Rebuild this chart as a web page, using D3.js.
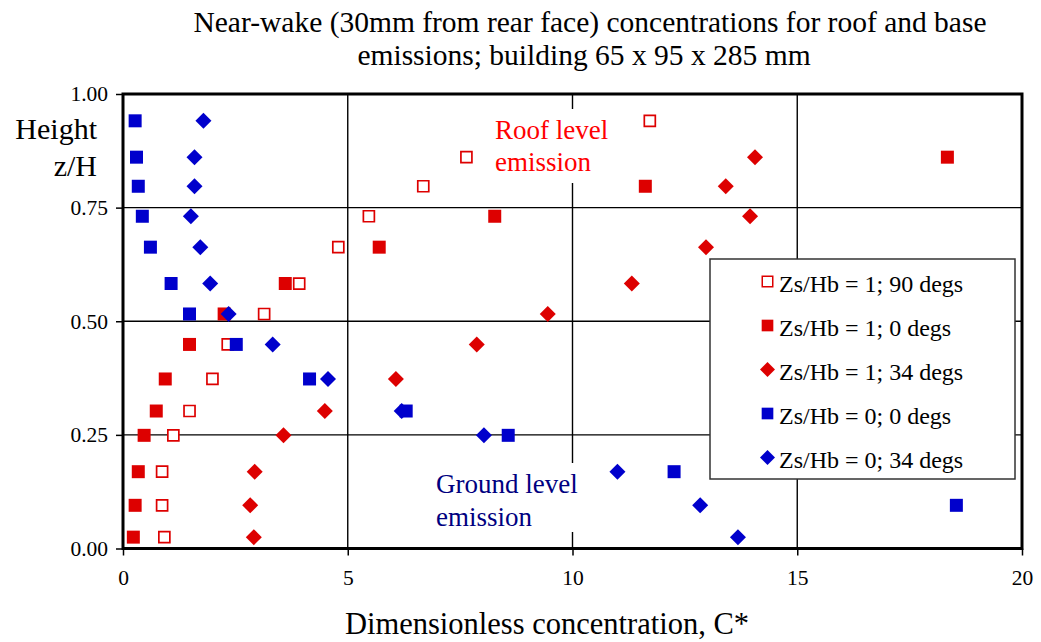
<!DOCTYPE html>
<html>
<head>
<meta charset="utf-8">
<script src="https://cdn.jsdelivr.net/npm/d3@7"></script>
<style>
  html, body { margin: 0; padding: 0; background: #fff; }
  svg { display: block; font-family: "Liberation Serif", "Times New Roman", serif; }
</style>
</head>
<body>
<svg id="chart" width="1041" height="642"></svg>
<script>
// Measurement heights z/H (shared by all series)
const heights = [0.025, 0.095, 0.169, 0.249, 0.3025, 0.373, 0.449, 0.516, 0.583, 0.663, 0.731, 0.797, 0.861, 0.941];

// Dimensionless concentration C* at each height (null = not measured)
const roof90   = [0.92, 0.87, 0.87, 1.12, 1.48, 1.99, 2.33, 3.14, 3.92, 4.79, 5.47, 6.68, 7.64, 11.72];
const roof0    = [0.23, 0.27, 0.34, 0.47, 0.74, 0.94, 1.48, 2.25, 3.61, 5.70, 8.27, 11.62, 18.34, null];
const roof34   = [2.91, 2.83, 2.93, 3.57, 4.49, 6.07, 7.87, 9.45, 11.32, 12.97, 13.95, 13.41, 14.06, null];
const ground0  = [null, 18.54, 12.26, 8.57, 6.30, 4.15, 2.52, 1.48, 1.07, 0.61, 0.43, 0.34, 0.30, 0.27];
const ground34 = [13.68, 12.84, 11.0, 8.03, 6.20, 4.56, 3.33, 2.35, 1.94, 1.72, 1.51, 1.59, 1.59, 1.79];

const seriesNames = ["Zs/Hb = 1; 90 degs", "Zs/Hb = 1; 0 degs", "Zs/Hb = 1; 34 degs", "Zs/Hb = 0; 0 degs", "Zs/Hb = 0; 34 degs"];
const xTicks = [0, 5, 10, 15, 20];
const yTicks = [0, 0.25, 0.5, 0.75, 1];

const RED = "#dd0000", BLUE = "#0000cc";
const series = [
  { name: seriesNames[0], values: roof90,   shape: "square",  fill: "#fff", stroke: RED },
  { name: seriesNames[1], values: roof0,    shape: "square",  fill: RED,    stroke: "none" },
  { name: seriesNames[2], values: roof34,   shape: "diamond", fill: RED,    stroke: "none" },
  { name: seriesNames[3], values: ground0,  shape: "square",  fill: BLUE,   stroke: "none" },
  { name: seriesNames[4], values: ground34, shape: "diamond", fill: BLUE,   stroke: "none" }
];

const svg = d3.select("#chart");
const x = d3.scaleLinear().domain([0, 20]).range([123, 1022]);
const y = d3.scaleLinear().domain([0, 1]).range([548.5, 94]);

// Title
const title = svg.append("text").attr("text-anchor", "middle").attr("font-size", 29.5).attr("fill", "#000");
title.append("tspan").attr("x", 590).attr("y", 32).text("Near-wake (30mm from rear face) concentrations for roof and base");
title.append("tspan").attr("x", 584).attr("y", 65).text("emissions; building 65 x 95 x 285 mm");

// Grid lines
const grid = svg.append("g").attr("stroke", "#000").attr("stroke-width", 1.4);
grid.selectAll("line.v").data(xTicks.slice(1, -1)).join("line")
  .attr("x1", d => x(d)).attr("x2", d => x(d)).attr("y1", y(1)).attr("y2", y(0));
grid.selectAll("line.h").data(yTicks.slice(1, -1)).join("line")
  .attr("x1", x(0)).attr("x2", x(20)).attr("y1", d => y(d)).attr("y2", d => y(d));

// Axes
const yAxis = svg.append("g").attr("transform", `translate(${x(0)},0)`)
  .call(d3.axisLeft(y).tickValues(yTicks).tickFormat(d3.format(".2f")).tickSize(7).tickPadding(8));
const xAxis = svg.append("g").attr("transform", `translate(0,${y(0)})`)
  .call(d3.axisBottom(x).tickValues(xTicks).tickFormat(d3.format("d")).tickSize(7).tickPadding(14));
[yAxis, xAxis].forEach(a => {
  a.attr("font-family", "Liberation Serif");
  a.select(".domain").remove();
  a.selectAll(".tick line").attr("stroke", "#000").attr("stroke-width", 1.5);
  a.selectAll(".tick text").attr("font-size", 21.5).attr("fill", "#000");
});

// Axis titles
const yt = svg.append("text").attr("text-anchor", "end").attr("font-size", 30).attr("fill", "#000");
yt.append("tspan").attr("x", 97).attr("y", 139).text("Height");
yt.append("tspan").attr("x", 97).attr("y", 176).text("z/H");
svg.append("text").attr("x", 547).attr("y", 634).attr("text-anchor", "middle")
  .attr("font-size", 30.5).attr("fill", "#000").text("Dimensionless concentration, C*");

// Annotations with white backing over the grid
svg.append("rect").attr("x", 490).attr("y", 109).attr("width", 110).attr("height", 74).attr("fill", "#fff");
const roofTxt = svg.append("text").attr("font-size", 27).attr("fill", "#ff0000");
roofTxt.append("tspan").attr("x", 495).attr("y", 139).text("Roof level");
roofTxt.append("tspan").attr("x", 495).attr("y", 171).text("emission");

svg.append("rect").attr("x", 432).attr("y", 463).attr("width", 150).attr("height", 69).attr("fill", "#fff");
const gTxt = svg.append("text").attr("font-size", 27).attr("fill", "#000080");
gTxt.append("tspan").attr("x", 436).attr("y", 493).text("Ground level");
gTxt.append("tspan").attr("x", 436).attr("y", 526).text("emission");

// Marker generator
function markerPath(shape, big) {
  if (shape === "diamond") return d3.symbol().type(d3.symbolSquare).size(big ? 128 : 112)();
  return d3.symbol().type(d3.symbolSquare).size(big ? 169 : 136)();
}

// Data markers
series.forEach(s => {
  const pts = s.values.map((v, i) => ({ c: v, z: heights[i] })).filter(d => d.c !== null);
  const isOpen = s.fill === "#fff";
  svg.append("g").selectAll("path").data(pts).join("path")
    .attr("d", isOpen ? d3.symbol().type(d3.symbolSquare).size(121)() : markerPath(s.shape, true))
    .attr("transform", d => `translate(${x(d.c)},${y(d.z)})` + (s.shape === "diamond" ? " rotate(45)" : ""))
    .attr("fill", s.fill).attr("stroke", s.stroke).attr("stroke-width", isOpen ? 1.7 : 0);
});

// Legend
const lg = svg.append("g");
lg.append("rect").attr("x", 710).attr("y", 259).attr("width", 305).attr("height", 220)
  .attr("fill", "#fff").attr("stroke", "#333").attr("stroke-width", 1.5);
series.forEach((s, i) => {
  const cy = 281.5 + i * 44;
  const isOpen = s.fill === "#fff";
  lg.append("path")
    .attr("d", isOpen ? d3.symbol().type(d3.symbolSquare).size(110)() : markerPath(s.shape, false))
    .attr("transform", `translate(767.5,${cy})` + (s.shape === "diamond" ? " rotate(45)" : ""))
    .attr("fill", s.fill).attr("stroke", s.stroke).attr("stroke-width", isOpen ? 1.5 : 0);
  lg.append("text").attr("x", 779).attr("y", cy + 10).attr("font-size", 24).attr("fill", "#000").text(s.name);
});

// Plot frame
svg.append("rect").attr("x", x(0)).attr("y", y(1)).attr("width", x(20) - x(0)).attr("height", y(0) - y(1))
  .attr("fill", "none").attr("stroke", "#000").attr("stroke-width", 3);
</script>
</body>
</html>
